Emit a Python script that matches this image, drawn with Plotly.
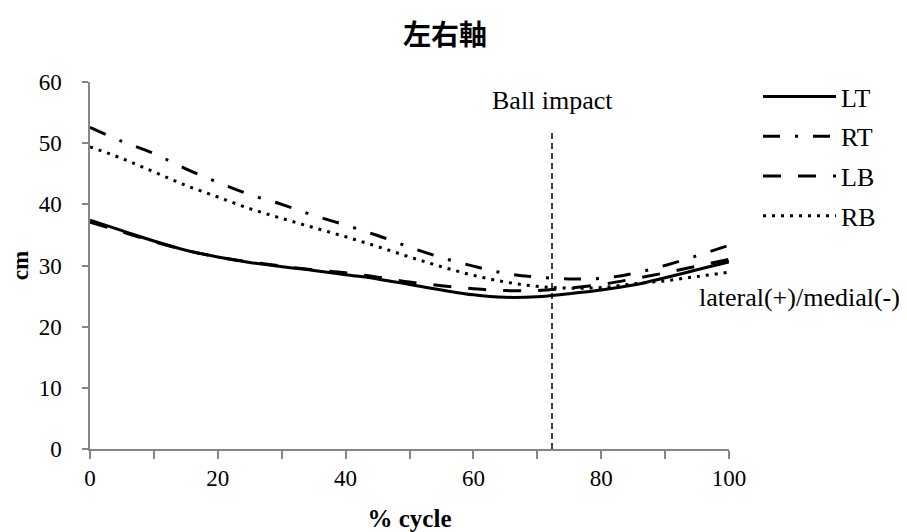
import plotly.graph_objects as go

# ---- data ----
pct = [0, 5, 10, 15, 20, 25, 30, 35, 40, 45, 50, 55, 60, 65, 70, 75, 80, 85, 90, 95, 100]
LT = [37.4, 35.7, 34.0, 32.5, 31.4, 30.5, 29.8, 29.2, 28.5, 27.8, 26.9, 26.0, 25.2, 24.8, 24.9, 25.4, 26.0, 26.8, 28.0, 29.3, 30.6]
RT = [52.6, 50.3, 48.3, 45.8, 43.6, 41.6, 40.0, 38.2, 36.6, 34.9, 33.0, 31.3, 29.9, 28.7, 28.1, 27.8, 27.9, 28.7, 30.0, 31.6, 33.3]
LB = [37.1, 35.5, 33.9, 32.5, 31.4, 30.6, 29.9, 29.3, 28.8, 28.1, 27.3, 26.7, 26.2, 25.9, 25.9, 26.3, 26.9, 27.8, 28.8, 29.9, 31.0]
RB = [49.4, 47.5, 45.3, 43.1, 41.2, 39.3, 37.7, 36.2, 34.7, 33.1, 31.4, 29.8, 28.4, 27.3, 26.6, 26.3, 26.4, 27.0, 27.5, 28.2, 28.9]
series_names = ["LT", "RT", "LB", "RB"]
impact_pct = 72.3
x_tickvals = [0, 10, 20, 30, 40, 50, 60, 70, 80, 90, 100]
x_ticktext = ["0", "", "20", "", "40", "", "60", "", "80", "", "100"]

serif = "Liberation Serif, Times New Roman, serif"
TICK_FS = 23
TEXT_FS = 26
dashes = {
    "LT": "solid",
    "RT": "17px,15px,3px,15px",
    "LB": "18px,17px",
    "RB": "3px,6px",
}
values = {"LT": LT, "RT": RT, "LB": LB, "RB": RB}

fig = go.Figure()
for name in series_names:
    fig.add_trace(go.Scatter(
        x=pct, y=values[name], mode="lines", name=name, legendgroup=name,
        line=dict(color="black", width=3, dash=dashes[name], shape="spline"),
    ))

fig.add_shape(type="line", x0=impact_pct, x1=impact_pct, y0=0, y1=52,
              xref="x", yref="y", line=dict(color="black", width=1.5, dash="6px,4px"))

fig.add_annotation(x=impact_pct, y=56.9, xref="x", yref="y", text="Ball impact",
                   showarrow=False, font=dict(family=serif, size=TEXT_FS, color="black"))
fig.add_annotation(x=1.2707, y=24.8, xref="paper", yref="y", xanchor="right",
                   text="lateral(+)/medial(-)",
                   showarrow=False, font=dict(family=serif, size=TEXT_FS, color="black"))

axis_color = "#868686"
fig.update_layout(
    width=899, height=524,
    margin=dict(l=82, r=178, t=74, b=83, autoexpand=False),
    paper_bgcolor="white", plot_bgcolor="white",
    title=dict(text="<b>左右軸</b>", x=0.486, xanchor="center", y=0.948, yanchor="middle",
               font=dict(family="Noto Sans CJK TC", size=28, color="black")),
    showlegend=True,
    legend=dict(x=1.0454, xanchor="left", y=1.0245, yanchor="top",
                font=dict(family=serif, size=TEXT_FS, color="black"),
                itemwidth=73, tracegroupgap=3, traceorder="grouped",
                bgcolor="rgba(0,0,0,0)"),
    xaxis=dict(range=[0, 100], tickvals=x_tickvals, ticktext=x_ticktext,
               automargin=False,
               showline=True, linecolor=axis_color, linewidth=1.5,
               ticks="outside", ticklen=8, tickcolor=axis_color, tickwidth=1.5,
               showgrid=False, zeroline=False,
               tickfont=dict(family=serif, size=TICK_FS, color="black"),
               title=dict(text="<b>% cycle</b>", standoff=20,
                          font=dict(family=serif, size=25, color="black"))),
    yaxis=dict(range=[0, 60], dtick=10, automargin=False,
               showline=True, linecolor=axis_color, linewidth=1.5,
               ticks="outside", ticklen=6, tickcolor=axis_color, tickwidth=1.5,
               ticklabelstandoff=16,
               showgrid=False, zeroline=False,
               tickfont=dict(family=serif, size=TICK_FS, color="black"),
               title=dict(text="<b>cm</b>", standoff=14,
                          font=dict(family=serif, size=23, color="black"))),
)

fig.write_html("out.html")
